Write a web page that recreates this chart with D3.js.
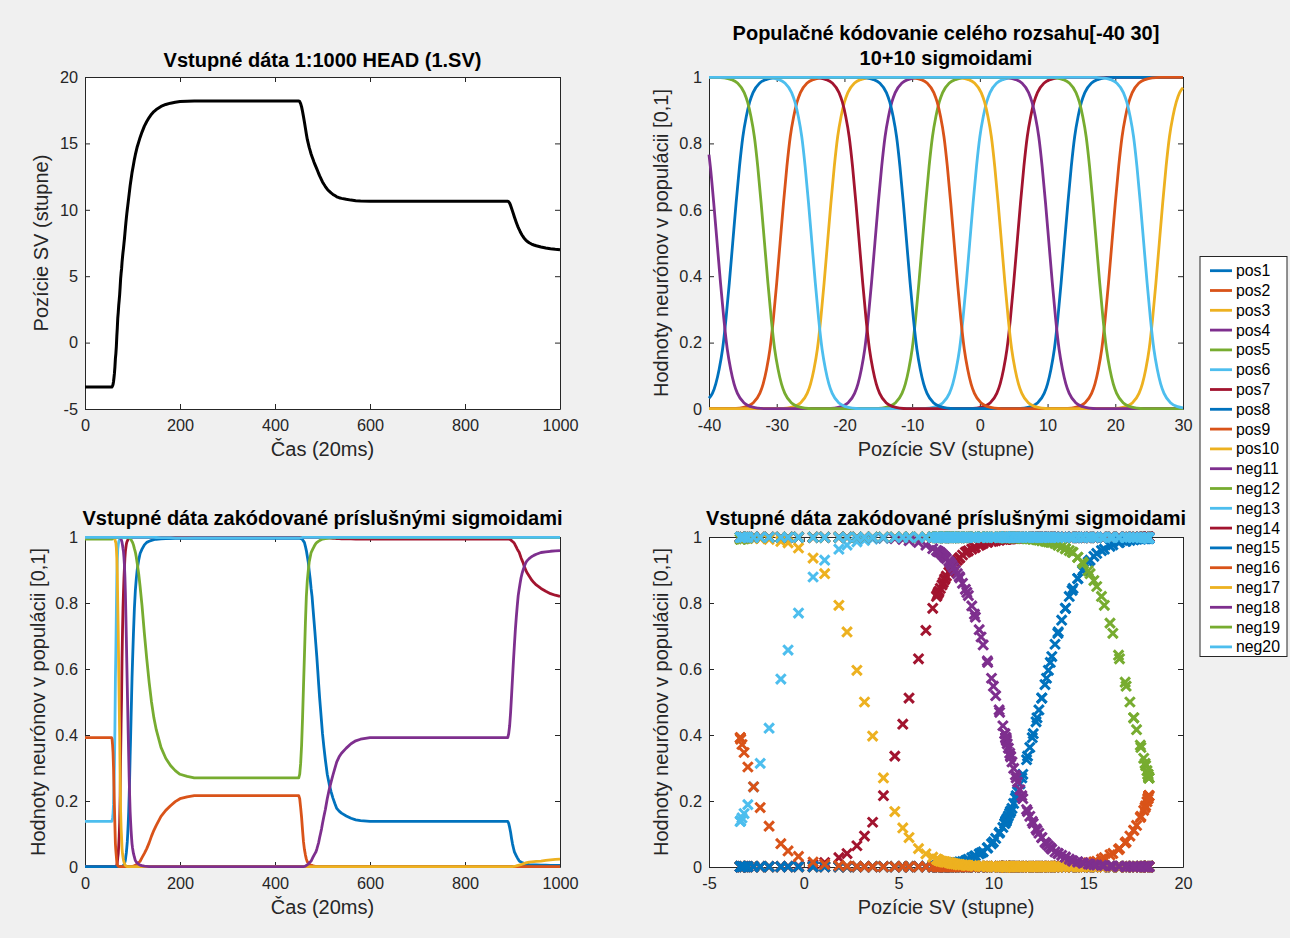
<!DOCTYPE html>
<html>
<head>
<meta charset="utf-8">
<script src="https://cdn.jsdelivr.net/npm/d3@7"></script>
<style>
  body { margin: 0; background: #fff; }
  text { font-family: "Liberation Sans", Arial, Helvetica, sans-serif; }
  .os path.domain, .os line { stroke: #262626; }
  .os text { font-size: 16.3px; fill: #262626; font-family: "Liberation Sans", Arial, sans-serif; }
</style>
</head>
<body>
<svg id="fig" width="1290" height="938"></svg>
<script>

// poloha hlavy (1.SV) v case, odcitane z grafu
var casKroky = [0, 56, 57, 58, 59, 60, 61, 62, 63, 64, 65, 66, 67, 68, 69, 70, 71, 72, 73, 74, 75, 76, 77, 78, 79,
  80, 81, 82, 83, 84, 85, 86, 87, 88, 89, 90, 91, 92, 93, 94, 95, 96, 97, 98, 99, 100, 102, 104, 106, 108, 110,
  113, 116, 120, 125, 130, 135, 140, 145, 150, 160, 170, 180, 190, 200, 215, 230, 300, 400, 450,
  452, 454, 456, 458, 460, 462, 464, 466, 468, 470, 472, 474, 476, 478, 480, 482, 484, 486, 488, 490,
  492, 494, 496, 498, 500, 503, 506, 510, 514, 518, 522, 526, 530, 535, 540, 550, 560, 570, 580, 600, 700, 800, 890,
  892, 894, 896, 898, 900, 902, 904, 906, 908, 910, 912, 914, 916, 918, 920, 922, 924, 926, 928, 930,
  935, 940, 945, 950, 960, 970, 980, 990, 1000];
var poziciaSV = [-3.35, -3.35, -3.33, -3.26, -3.15, -2.95, -2.65, -2.30, -1.83, -1.21, -0.83, -0.28, 0.49, 1.10,
  1.85, 2.28, 2.80, 3.20, 3.63, 4.20, 4.80, 5.22, 5.55, 6.05, 6.44,
  6.80, 7.10, 7.45, 7.80, 8.20, 8.60, 9.00, 9.35, 9.70, 10.00, 10.30, 10.60, 10.90, 11.20, 11.50, 11.80, 12.05,
  12.30, 12.55, 12.80, 13.00, 13.40, 13.80, 14.15, 14.45, 14.75,
  15.10, 15.45, 15.85, 16.30, 16.65, 16.95, 17.20, 17.40, 17.55, 17.78, 17.93, 18.03, 18.10, 18.15, 18.18, 18.20,
  18.20, 18.20, 18.20,
  18.15, 18.00, 17.75, 17.40, 17.00, 16.60, 16.15, 15.70, 15.30, 15.00, 14.70, 14.45, 14.20, 14.00, 13.80,
  13.60, 13.42, 13.25, 13.08, 12.90,
  12.72, 12.55, 12.40, 12.25, 12.10, 11.92, 11.75, 11.55, 11.40, 11.27, 11.16, 11.07, 10.98, 10.91, 10.86,
  10.79, 10.73, 10.69, 10.67, 10.65, 10.65, 10.65, 10.65,
  10.60, 10.50, 10.33, 10.12, 9.90, 9.68, 9.46, 9.25, 9.05, 8.86, 8.68, 8.52, 8.37, 8.23, 8.10, 7.99, 7.89,
  7.80, 7.72, 7.65,
  7.52, 7.42, 7.35, 7.29, 7.20, 7.13, 7.07, 7.03, 7.00];

// stredy sigmoid (hodnota 0.5), odcitane z grafu
var posStredy = [-36.5, -29.5, -22.5, -15.5, -8.5, -1.5, 5.5, 12.5, 19.5, 26.5];
var negStredy = [-38.8, -31.8, -24.8, -17.8, -10.8, -3.8, 3.2, 10.2, 17.2, 24.2];

// tvar rastucej sigmoidy okolo stredu (posun v stupnoch -> hodnota)
var sigmoidaPosun = [-7, -6, -5, -4, -3, -2.5, -2, -1.5, -1, -0.5, 0, 0.5, 1, 1.5, 2, 2.5, 3, 4, 5, 6, 7];
var sigmoidaHodnota = [0.001, 0.0025, 0.007, 0.018, 0.047, 0.076, 0.12, 0.18, 0.27, 0.38, 0.5, 0.62, 0.73,
  0.82, 0.88, 0.924, 0.953, 0.982, 0.993, 0.9975, 0.999];

var nazvyNeuronov = ["pos1", "pos2", "pos3", "pos4", "pos5", "pos6", "pos7", "pos8", "pos9", "pos10",
  "neg11", "neg12", "neg13", "neg14", "neg15", "neg16", "neg17", "neg18", "neg19", "neg20"];
var farby = ["#0072BD", "#D95319", "#EDB120", "#7E2F8E", "#77AC30", "#4DBEEE", "#A2142F"];

var casTicks = [0, 200, 400, 600, 800, 1000];
var svTicks = [-5, 0, 5, 10, 15, 20];
var rozsahTicks = [-40, -30, -20, -10, 0, 10, 20, 30];
var hodnotaTicks = [0, 0.2, 0.4, 0.6, 0.8, 1];

var svg = d3.select("#fig");
svg.append("rect").attr("width", 1290).attr("height", 938).attr("fill", "#f0f0f0");

var sig = d3.scaleLinear().domain(sigmoidaPosun).range(sigmoidaHodnota).clamp(true);

var neurony = nazvyNeuronov.map(function(nazov, i) {
  return {
    nazov: nazov,
    stred: i < 10 ? posStredy[i] : negStredy[i - 10],
    smer: i < 10 ? 1 : -1,
    farba: farby[i % farby.length]
  };
});

function hodnota(n, p) { return sig(n.smer * (p - n.stred)); }

function osi(x0, y0, w, h, xDom, yDom, xt, yt) {
  var g = svg.append("g").attr("transform", "translate(" + x0 + "," + y0 + ")");
  g.append("rect").attr("width", w).attr("height", h).attr("fill", "#fff");
  var x = d3.scaleLinear().domain(xDom).range([0, w]);
  var y = d3.scaleLinear().domain(yDom).range([h, 0]);
  var fmt = function(d) { return String(d); };
  var nic = function() { return ""; };
  g.append("g").attr("class", "os").attr("transform", "translate(0," + h + ")")
      .call(d3.axisBottom(x).tickValues(xt).tickFormat(fmt).tickSizeInner(-5).tickSizeOuter(0).tickPadding(10));
  g.append("g").attr("class", "os")
      .call(d3.axisTop(x).tickValues(xt).tickFormat(nic).tickSizeInner(-5).tickSizeOuter(0));
  g.append("g").attr("class", "os")
      .call(d3.axisLeft(y).tickValues(yt).tickFormat(fmt).tickSizeInner(-5).tickSizeOuter(0).tickPadding(7));
  g.append("g").attr("class", "os").attr("transform", "translate(" + w + ",0)")
      .call(d3.axisRight(y).tickValues(yt).tickFormat(nic).tickSizeInner(-5).tickSizeOuter(0));
  return {g: g, x: x, y: y, w: w, h: h, x0: x0, y0: y0};
}

function popisy(o, titul, xLab, yLab, yLabX) {
  var cx = o.x0 + o.w / 2;
  titul.forEach(function(t) {
    svg.append("text").attr("x", cx).attr("y", t[1]).attr("text-anchor", "middle")
        .attr("font-size", 20).attr("font-weight", "bold").attr("fill", "#000").text(t[0]);
  });
  svg.append("text").attr("x", cx).attr("y", o.y0 + o.h + 47).attr("text-anchor", "middle")
      .attr("font-size", 20).attr("fill", "#262626").text(xLab);
  svg.append("text").attr("transform", "translate(" + yLabX + "," + (o.y0 + o.h / 2) + ") rotate(-90)")
      .attr("text-anchor", "middle").attr("font-size", 20).attr("fill", "#262626").text(yLab);
}

// 1) vstupne data
var o1 = osi(85, 77, 475, 332, [0, 1000], [-5, 20], casTicks, svTicks);
var line1 = d3.line().x(function(d, k) { return o1.x(casKroky[k]); }).y(function(d) { return o1.y(d); });
o1.g.append("path").datum(poziciaSV).attr("d", line1)
    .attr("fill", "none").attr("stroke", "#000").attr("stroke-width", 3).attr("stroke-linejoin", "round");
popisy(o1, [["Vstupné dáta 1:1000 HEAD (1.SV)", 67]], "Čas (20ms)", "Pozície SV (stupne)", 48);

// 2) populacne kodovanie celeho rozsahu
var o2 = osi(709, 77, 474, 332, [-40, 30], [0, 1], rozsahTicks, hodnotaTicks);
var line2 = d3.line().x(function(d) { return o2.x(d[0]); }).y(function(d) { return o2.y(d[1]); })
    .curve(d3.curveMonotoneX);
neurony.forEach(function(n) {
  var dom = o2.x.domain();
  var xs = [dom[0], dom[1]];
  sigmoidaPosun.forEach(function(p) {
    var xv = n.stred + n.smer * p;
    if (xv > dom[0] && xv < dom[1]) xs.push(xv);
  });
  xs.sort(d3.ascending);
  o2.g.append("path").datum(xs.map(function(xv) { return [xv, hodnota(n, xv)]; }))
      .attr("d", line2).attr("fill", "none").attr("stroke", n.farba).attr("stroke-width", 2.8);
});
popisy(o2, [["Populačné kódovanie celého rozsahu[-40 30]", 40], ["10+10 sigmoidami", 65]],
    "Pozície SV (stupne)", "Hodnoty neurónov v populácii [0,1]", 668);

// 3) zakodovane data v case
var o3 = osi(85, 537, 475, 330, [0, 1000], [0, 1], casTicks, hodnotaTicks);
var line3 = d3.line().x(function(d) { return o3.x(d[0]); }).y(function(d) { return o3.y(d[1]); });
neurony.forEach(function(n) {
  o3.g.append("path").datum(casKroky.map(function(t, k) { return [t, hodnota(n, poziciaSV[k])]; }))
      .attr("d", line3).attr("fill", "none").attr("stroke", n.farba).attr("stroke-width", 2.8)
      .attr("stroke-linejoin", "round");
});
popisy(o3, [["Vstupné dáta zakódované príslušnými sigmoidami", 525]], "Čas (20ms)",
    "Hodnoty neurónov v populácii [0,1]", 45);

// 4) zakodovane data podla polohy
var o4 = osi(709, 537, 474, 330, [-5, 20], [0, 1], svTicks, hodnotaTicks);
neurony.forEach(function(n) {
  o4.g.append("g").selectAll("path")
    .data(poziciaSV.map(function(p) { return [p, hodnota(n, p)]; }))
    .enter().append("path")
      .attr("transform", function(d) { return "translate(" + o4.x(d[0]) + "," + o4.y(d[1]) + ")"; })
      .attr("d", "M-4.8,-4.8L4.8,4.8M-4.8,4.8L4.8,-4.8")
      .attr("stroke", n.farba).attr("stroke-width", 3).attr("fill", "none");
});
popisy(o4, [["Vstupné dáta zakódované príslušnými sigmoidami", 525]], "Pozície SV (stupne)",
    "Hodnoty neurónov v populácii [0,1]", 668);

// legenda
var leg = svg.append("g").attr("transform", "translate(1200,256.5)");
leg.append("rect").attr("width", 87).attr("height", 400).attr("fill", "#fff")
    .attr("stroke", "#262626").attr("stroke-width", 1);
neurony.forEach(function(n, i) {
  var yy = 14.2 + i * 19.8;
  leg.append("line").attr("x1", 10).attr("x2", 32).attr("y1", yy).attr("y2", yy)
      .attr("stroke", n.farba).attr("stroke-width", 2.8);
  leg.append("text").attr("x", 36).attr("y", yy).attr("dy", "0.35em").attr("font-size", 15.8)
      .attr("fill", "#000").text(n.nazov);
});
</script>
</body>
</html>
